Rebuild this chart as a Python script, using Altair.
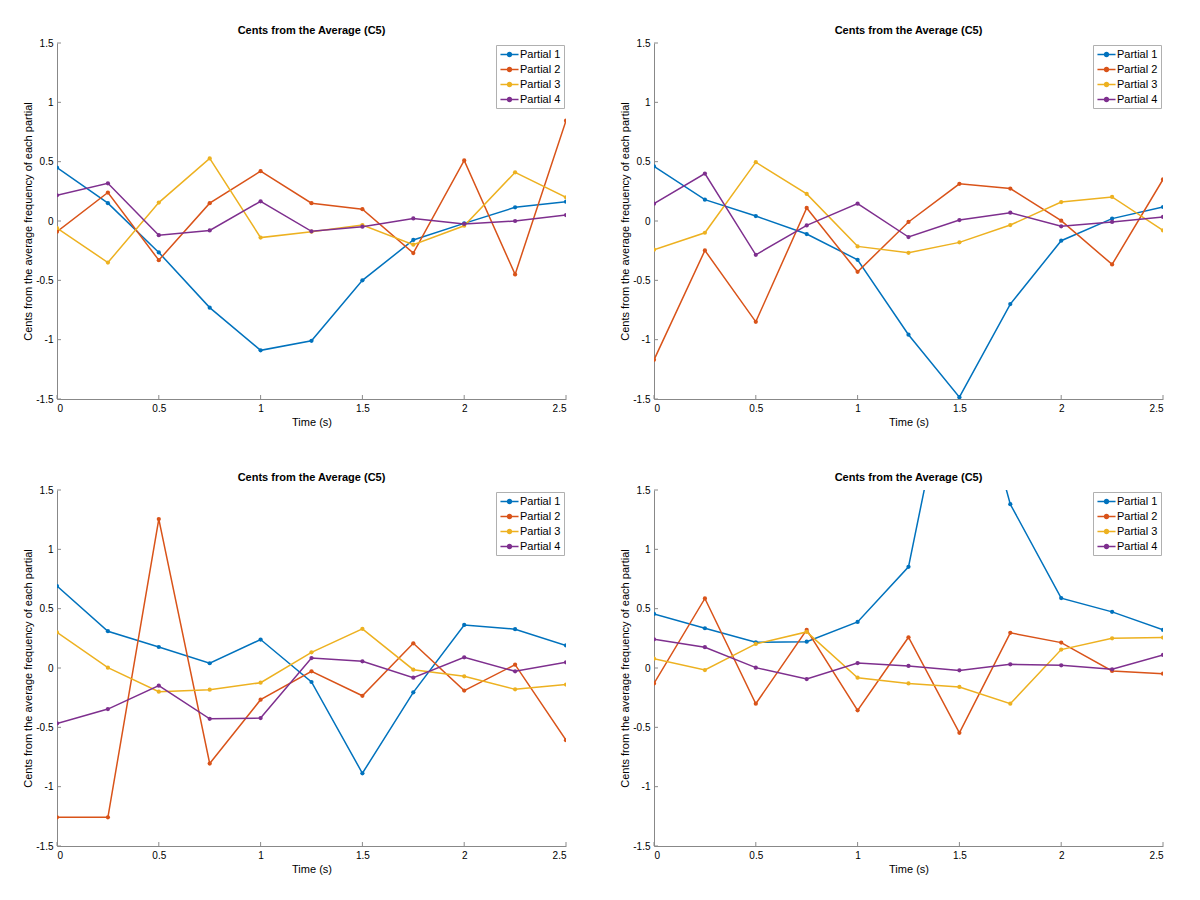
import altair as alt
import pandas as pd

time = [0, 0.25, 0.5, 0.75, 1.0, 1.25, 1.5, 1.75, 2.0, 2.25, 2.5]
series_names = ["Partial 1", "Partial 2", "Partial 3", "Partial 4"]
colors = ["#0072BD", "#D95319", "#EDB120", "#7E2F8E"]
chart_title = "Cents from the Average (C5)"
x_title = "Time (s)"
y_title = "Cents from the average frequency of each partial"
x_ticks = [0, 0.5, 1.0, 1.5, 2.0, 2.5]
y_ticks = [-1.5, -1.0, -0.5, 0, 0.5, 1.0, 1.5]

# Panel 1 (top left)
a_p1 = [0.45, 0.15, -0.265, -0.73, -1.09, -1.01, -0.50, -0.16, -0.02, 0.115, 0.163]
a_p2 = [-0.09, 0.24, -0.33, 0.15, 0.42, 0.15, 0.10, -0.27, 0.51, -0.45, 0.845]
a_p3 = [-0.06, -0.35, 0.155, 0.527, -0.14, -0.09, -0.034, -0.20, -0.04, 0.41, 0.20]
a_p4 = [0.217, 0.318, -0.12, -0.08, 0.166, -0.087, -0.048, 0.022, -0.025, 0.0, 0.05]

# Panel 2 (top right)
b_p1 = [0.46, 0.18, 0.042, -0.11, -0.327, -0.958, -1.485, -0.70, -0.166, 0.02, 0.118]
b_p2 = [-1.17, -0.248, -0.85, 0.11, -0.428, -0.008, 0.313, 0.273, 0.003, -0.366, 0.35]
b_p3 = [-0.242, -0.099, 0.496, 0.228, -0.214, -0.268, -0.18, -0.034, 0.16, 0.203, -0.08]
b_p4 = [0.146, 0.40, -0.285, -0.037, 0.146, -0.135, 0.008, 0.07, -0.045, -0.008, 0.034]

# Panel 3 (bottom left)
c_p1 = [0.69, 0.31, 0.177, 0.04, 0.24, -0.118, -0.887, -0.205, 0.363, 0.327, 0.19]
c_p2 = [-1.258, -1.258, 1.255, -0.805, -0.267, -0.028, -0.234, 0.208, -0.19, 0.028, -0.608]
c_p3 = [0.30, 0.003, -0.20, -0.183, -0.124, 0.132, 0.33, -0.014, -0.07, -0.18, -0.14]
c_p4 = [-0.467, -0.346, -0.149, -0.428, -0.422, 0.084, 0.056, -0.082, 0.09, -0.028, 0.048]

# Panel 4 (bottom right)
d_p1 = [0.456, 0.335, 0.217, 0.222, 0.388, 0.853, 2.95, 1.38, 0.589, 0.473, 0.321]
d_p2 = [-0.13, 0.586, -0.301, 0.321, -0.357, 0.259, -0.546, 0.296, 0.214, -0.025, -0.048]
d_p3 = [0.079, -0.017, 0.203, 0.304, -0.082, -0.13, -0.16, -0.301, 0.155, 0.25, 0.256]
d_p4 = [0.242, 0.175, 0.003, -0.093, 0.042, 0.017, -0.02, 0.031, 0.023, -0.011, 0.11]

panels = [
    [a_p1, a_p2, a_p3, a_p4],
    [b_p1, b_p2, b_p3, b_p4],
    [c_p1, c_p2, c_p3, c_p4],
    [d_p1, d_p2, d_p3, d_p4],
]

W, H = 509, 356
FONT = "Liberation Sans"
AXIS_GRAY = "#8a8a8a"
TXT = "#262626"

# line + dot legend symbol (extends past the unit box so rows stay compact)
SYMBOL = "M-1.65,0H1.65M-0.36,0a0.36,0.36 0 1,0 0.72,0a0.36,0.36 0 1,0 -0.72,0"


def make_panel(series):
    rows = []
    for name, vals in zip(series_names, series):
        for t, v in zip(time, vals):
            rows.append({"t": t, "v": v, "series": name})
    df = pd.DataFrame(rows)

    xs = alt.Scale(domain=[0, 2.5], nice=False, zero=False)
    ys = alt.Scale(domain=[-1.5, 1.5], nice=False, zero=False)
    legend = alt.Legend(
        title=None, orient="top-right", offset=2,
        symbolType=SYMBOL, symbolSize=120, symbolStrokeWidth=1.5,
        symbolOffset=4,
        labelFont=FONT, labelFontSize=11, labelColor="#000",
        strokeColor="#b0b0b0", fillColor="white", padding=3,
        rowPadding=3, labelOffset=4, labelLimit=200,
    )
    sscale = alt.Scale(domain=series_names, range=colors)

    xaxis = alt.Axis(
        values=x_ticks, title=x_title, labelExpr="datum.value + ''",
        ticks=False, grid=False, labelPadding=4, titlePadding=3,
        titleFontWeight="normal",
    )
    yaxis = alt.Axis(
        values=y_ticks, title=y_title, labelExpr="datum.value + ''",
        ticks=False, grid=False, labelPadding=4, titlePadding=2,
        titleFontWeight="normal",
    )

    lines = alt.Chart(df).mark_line(strokeWidth=1.5, clip=True).encode(
        x=alt.X("t:Q", scale=xs, axis=xaxis),
        y=alt.Y("v:Q", scale=ys, axis=yaxis),
        stroke=alt.Stroke("series:N", scale=sscale, legend=legend),
        detail="series:N",
    )
    pts = alt.Chart(df).mark_circle(size=18, opacity=1, strokeWidth=0, clip=True).encode(
        x=alt.X("t:Q", scale=xs),
        y=alt.Y("v:Q", scale=ys),
        fill=alt.Fill("series:N", scale=sscale, legend=legend),
        stroke=alt.Stroke("series:N", scale=sscale, legend=legend),
    )
    xt = alt.Chart(pd.DataFrame({"t": x_ticks})).mark_rule(
        color=AXIS_GRAY, strokeWidth=1).encode(
        x=alt.X("t:Q", scale=xs), y=alt.value(H), y2=alt.value(H - 4))
    yt = alt.Chart(pd.DataFrame({"v": y_ticks})).mark_rule(
        color=AXIS_GRAY, strokeWidth=1).encode(
        y=alt.Y("v:Q", scale=ys), x=alt.value(0), x2=alt.value(4))

    return alt.layer(xt, yt, lines, pts).properties(
        width=W, height=H,
        title=alt.TitleParams(chart_title, fontSize=11, fontWeight="bold",
                              font=FONT, color="#000", offset=2, anchor="middle"),
    )


charts = [make_panel(s) for s in panels]

chart = alt.concat(
    *charts, columns=2, spacing={"row": 91, "column": 88}, bounds="flush"
).resolve_scale(
    stroke="independent", fill="independent"
).properties(
    padding={"left": 14, "top": 17, "right": 5, "bottom": 5}
).configure_view(
    strokeWidth=0, stroke="transparent", strokeOpacity=0
).configure_axis(
    domainColor=AXIS_GRAY, domainWidth=1,
    labelFont=FONT, labelFontSize=10, labelColor=TXT,
    titleFont=FONT, titleFontSize=10, titleColor=TXT, titleFontWeight="normal",
).configure(
    background="white",
    style={"cell": {"stroke": "transparent", "strokeWidth": 0}},
)

chart.save("out.html", embed_options={"renderer": "svg", "actions": False})
